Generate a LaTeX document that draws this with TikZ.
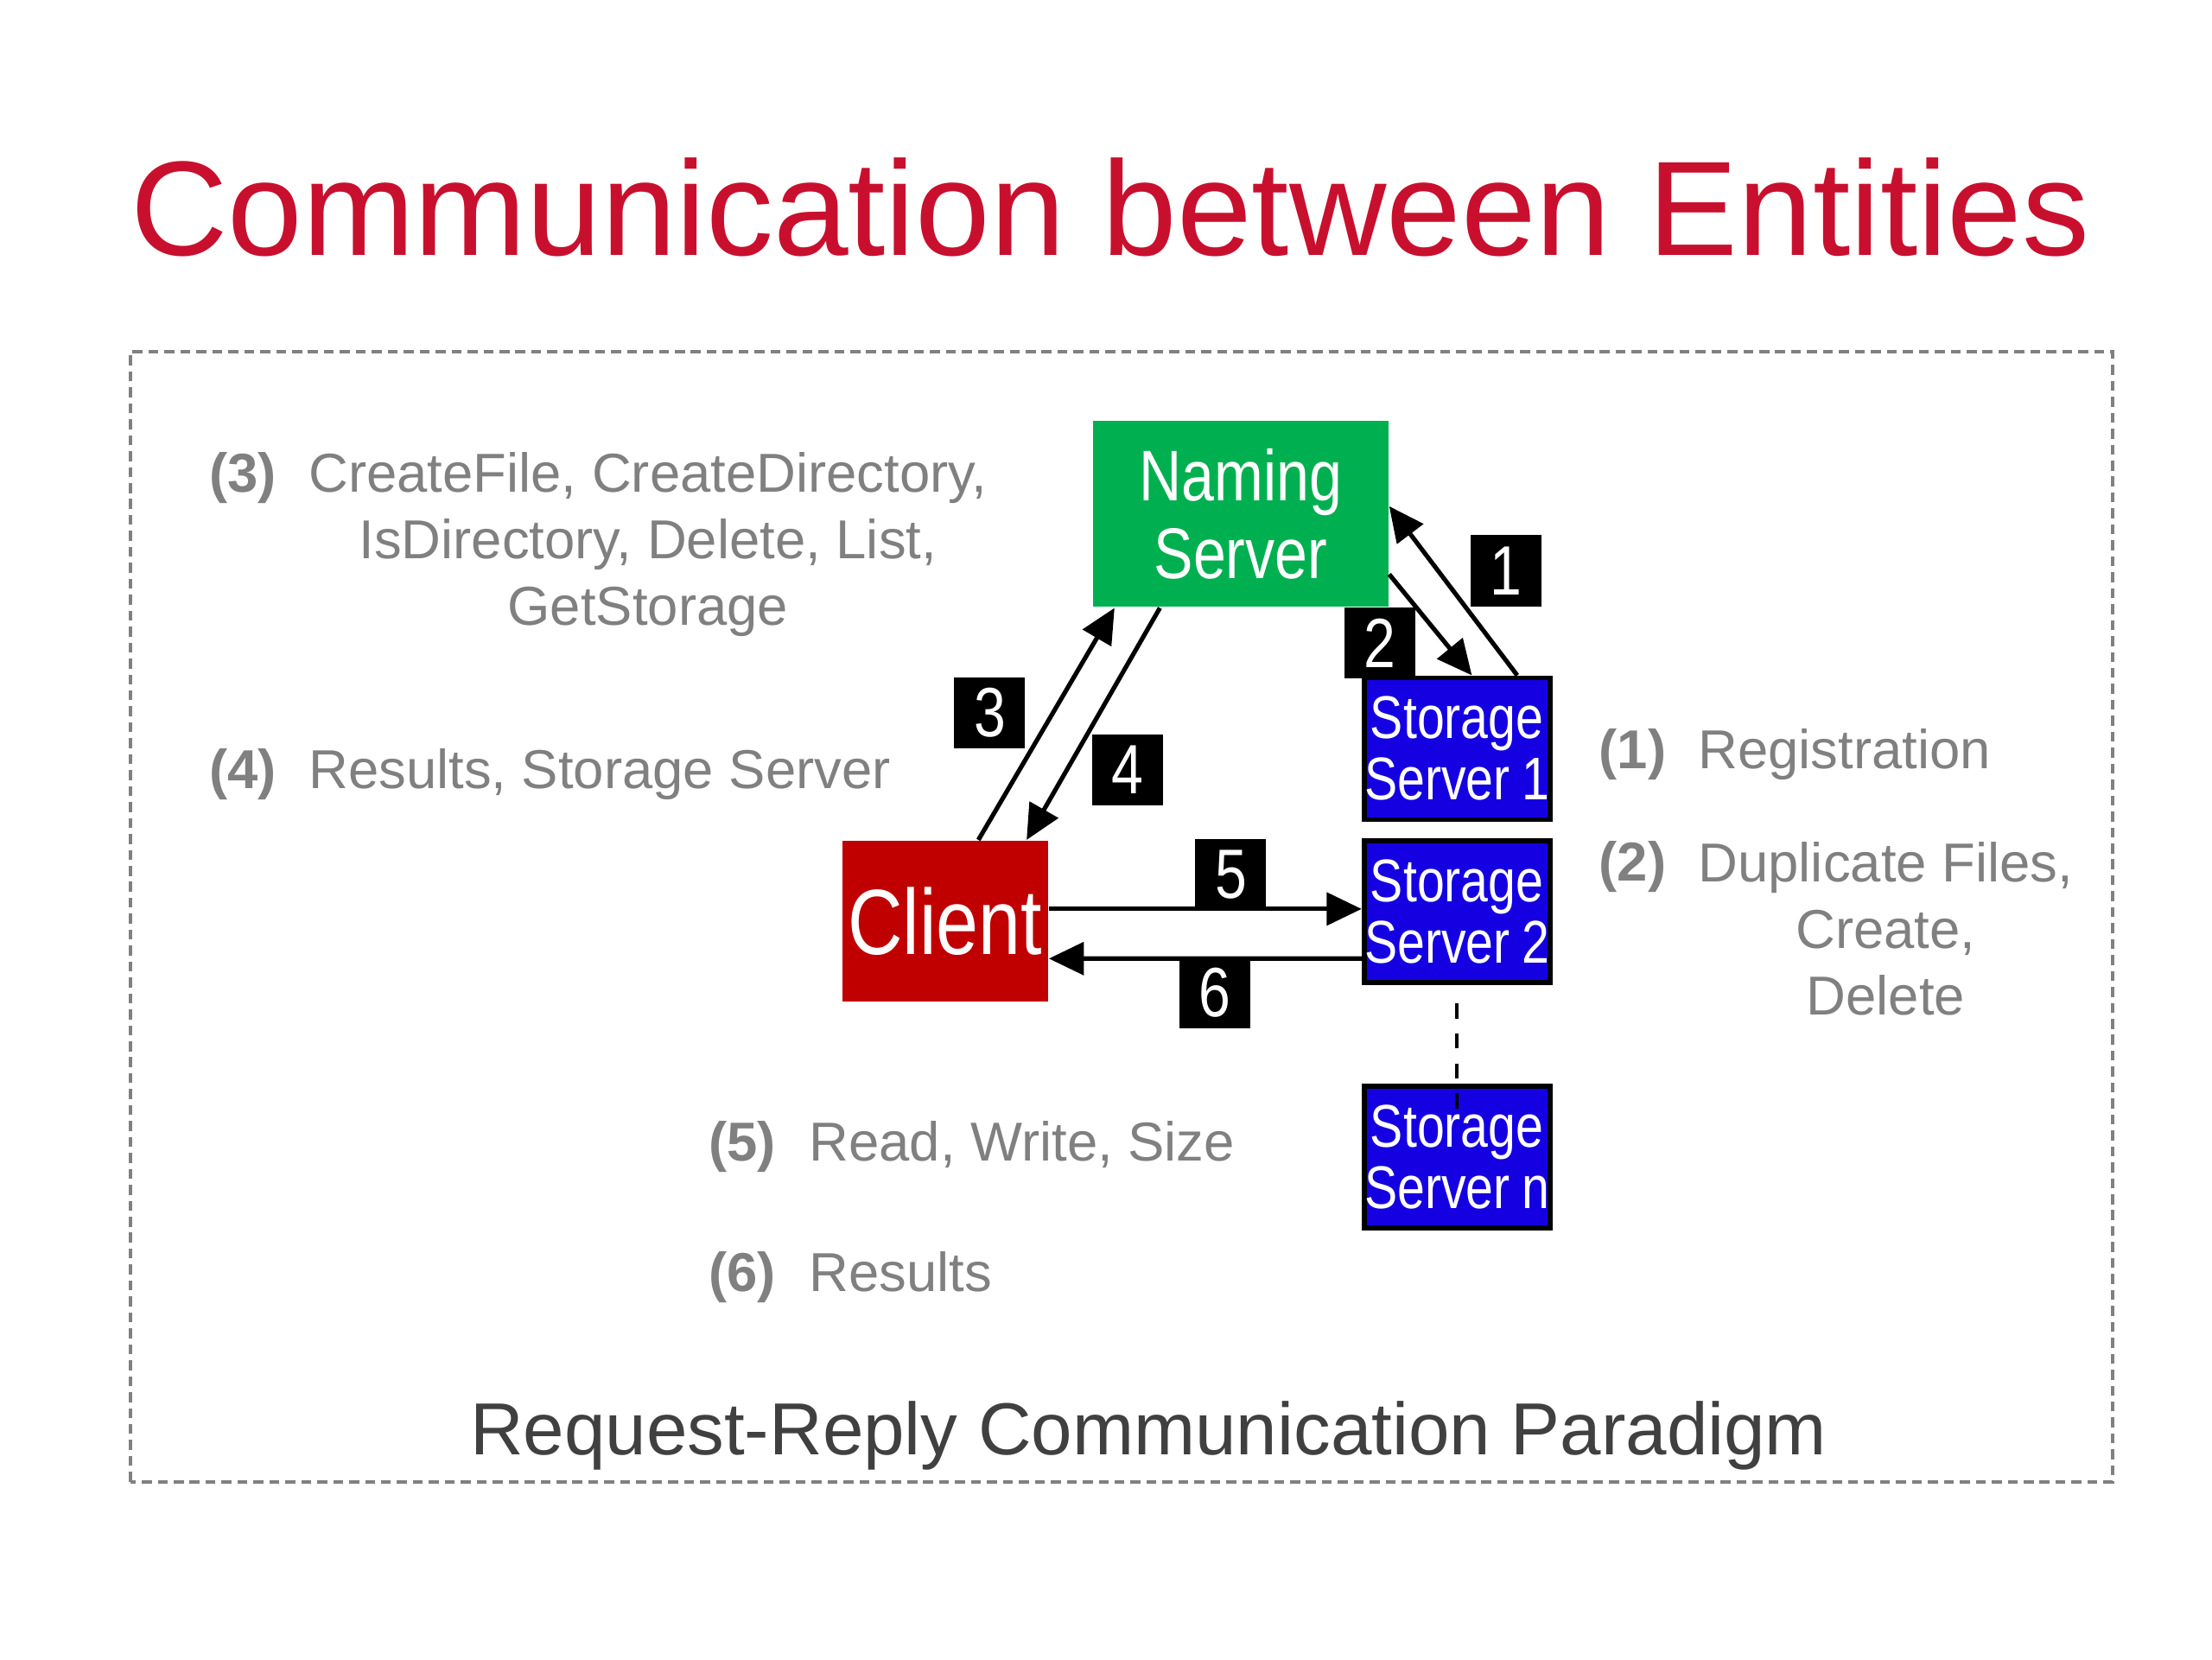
\documentclass[tikz,border=0pt]{standalone}
\usepackage{fontspec}
\setmainfont{Liberation Sans}
\newfontfamily\narrowfont{Liberation Sans}[FakeStretch=0.82]
\usetikzlibrary{arrows.meta}
\definecolor{titlered}{RGB}{200,16,46}
\definecolor{notegray}{RGB}{128,128,128}
\definecolor{capgray}{RGB}{64,64,64}
\definecolor{naminggreen}{RGB}{0,176,80}
\definecolor{clientred}{RGB}{192,0,0}
\definecolor{storageblue}{RGB}{20,0,224}

\begin{document}
\begin{tikzpicture}[
	arr/.style={line width=0.9pt, -{Triangle[length=7pt,width=6.5pt]}},
	numbox/.style={fill=black, text=white, minimum width=0.5cm, minimum height=0.5cm, inner sep=0pt, font=\narrowfont\fontsize{14}{14}\selectfont},
	storage/.style={draw=black, line width=1pt, fill=storageblue, text=white, text width=1.31cm, minimum height=1cm, inner sep=0pt, align=center, font=\narrowfont\fontsize{12.1}{12.3}\selectfont},
	note/.style={text=notegray, inner sep=0pt, anchor=base west, font=\fontsize{11}{13.4}\selectfont},
	tag/.style={note, font=\bfseries\fontsize{11}{13.4}\selectfont}]
	\useasboundingbox (0,0) rectangle (15.6,11.7);
	\fill [white] (0,0) rectangle (15.6,11.7);
	\draw [notegray, line width=0.6pt, dash pattern=on 2pt off 1.2pt] (0.92,1.25) rectangle (14.90,9.22);
	\node [anchor=base, text=titlered, font=\fontsize{27}{30}\selectfont] (title) at (7.83,9.90) {Communication between Entities};

	\node [fill=naminggreen, text=white, minimum width=2.08cm, minimum height=1.31cm, align=center, font=\narrowfont\fontsize{14.4}{15.6}\selectfont] (naming) at (8.75,8.075) {Naming\\Server};
	\node [fill=clientred, text=white, minimum width=1.45cm, minimum height=1.13cm, inner sep=0pt, font=\narrowfont\fontsize{18.6}{20}\selectfont] (client) at (6.665,5.205) {Client};
	\node [storage] (ss1) at (10.275,6.42) {Storage\\Server\kern.2em 1};
	\node [storage] (ss2) at (10.275,5.27) {Storage\\Server\kern.2em 2};
	\node [storage] (ssn) at (10.275,3.54) {Storage\\Server\kern.2em n};

	\draw [arr] ([xshift=0.235cm]client.north) -- ([xshift=-0.89cm]naming.south);
	\draw [arr] ([xshift=-0.57cm]naming.south) -- ([xshift=0.575cm]client.north);
	\draw [arr] ([yshift=-0.425cm]naming.east) -- ([xshift=0.105cm]ss1.north);
	\draw [arr] ([xshift=0.425cm]ss1.north) -- ([yshift=0.055cm]naming.east);
	\draw [arr] ([yshift=0.085cm]client.east) -- ([yshift=0.02cm]ss2.west);
	\draw [arr] ([yshift=-0.33cm]ss2.west) -- ([yshift=-0.265cm]client.east);
	\draw [dashed, line width=0.8pt] ([yshift=-0.13cm]ss2.south) -- ([yshift=-0.24cm]ssn.north);

	\node [numbox] (n1) at (10.62,7.675) {1};
	\node [numbox] (n2) at (9.73,7.165) {2};
	\node [numbox] (n3) at (6.98,6.675) {3};
	\node [numbox] (n4) at (7.95,6.27) {4};
	\node [numbox] (n5) at (8.68,5.53) {5};
	\node [numbox] (n6) at (8.57,4.70) {6};

	% multi-line notes sit on the baseline of their last line
	\node [tag] (t3) at (1.47,8.23) {(3)};
	\node [note, align=center] (c3) at (2.17,7.29) {CreateFile, CreateDirectory,\\IsDirectory, Delete, List,\\GetStorage};
	\node [tag] (t4) at (1.47,6.14) {(4)};
	\node [note] (c4) at (2.17,6.14) {Results, Storage Server};
	\node [tag] (t1) at (11.27,6.28) {(1)};
	\node [note] (c1) at (11.97,6.28) {Registration};
	\node [tag] (t2) at (11.27,5.49) {(2)};
	\node [note, align=center] (c2) at (11.97,4.54) {Duplicate Files,\\Create,\\Delete};
	\node [tag] (t5) at (4.99,3.51) {(5)};
	\node [note] (c5) at (5.70,3.51) {Read, Write, Size};
	\node [tag] (t6) at (4.99,2.59) {(6)};
	\node [note] (c6) at (5.70,2.59) {Results};

	\node [anchor=base, text=capgray, font=\fontsize{14.8}{16}\selectfont] (paradigm) at (8.10,1.44) {Request-Reply Communication Paradigm};
\end{tikzpicture}
\end{document}
